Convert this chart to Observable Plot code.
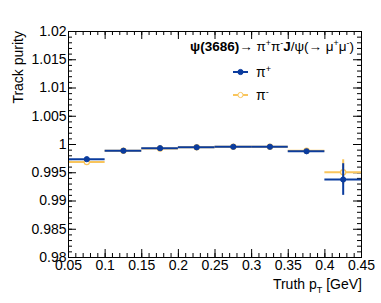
<!DOCTYPE html>
<html><head><meta charset="utf-8">
<script src="https://cdn.jsdelivr.net/npm/d3@7"></script>
<script src="https://cdn.jsdelivr.net/npm/@observablehq/plot@0.6"></script>
<style>body{margin:0;background:#fff} svg{display:block}</style>
</head><body><div id="chart"></div>
<script>
// ---- data ----
const binCenters = [0.075, 0.125, 0.175, 0.225, 0.275, 0.325, 0.375, 0.425];
const binHalfWidth = 0.025;
const piPlusPurity = [0.9974, 0.9989, 0.99935, 0.9995, 0.9996, 0.9996, 0.9988, 0.9938];
const piPlusErr    = [0.0002, 0.0001, 0.0001, 0.0001, 0.0001, 0.0001, 0.0002, 0.0028];
const piMinusPurity = [0.9969, 0.9989, 0.9993, 0.9995, 0.9996, 0.9996, 0.9989, 0.9951];
const piMinusErr    = [0.0003, 0.0001, 0.0001, 0.0001, 0.0001, 0.0001, 0.0002, 0.0022];
const xTickValues = [0.05, 0.1, 0.15, 0.2, 0.25, 0.3, 0.35, 0.4, 0.45];
const xTickLabels = ["0.05", "0.1", "0.15", "0.2", "0.25", "0.3", "0.35", "0.4", "0.45"];
const yTickValues = [0.98, 0.985, 0.99, 0.995, 1, 1.005, 1.01, 1.015, 1.02];
const yTickLabels = ["0.98", "0.985", "0.99", "0.995", "1", "1.005", "1.01", "1.015", "1.02"];
const seriesNames = ["π+", "π-"];
const blue = "#0b3c9e", orange = "#f9c55c";

const xMinor = d3.range(0, 41).map(i => +(0.05 + i * 0.01).toFixed(3));
const yMinor = d3.range(0, 41).map(i => +(0.98 + i * 0.001).toFixed(4));

const rows = (vals, errs, s) => binCenters.map((x, i) => ({x, y: vals[i], e: errs[i], s}));
const plus = rows(piPlusPurity, piPlusErr, seriesNames[0]);
const minus = rows(piMinusPurity, piMinusErr, seriesNames[1]);

const W = 381, H = 303, ml = 68, mr = 20, mt = 31, mb = 46;
const iw = W - ml - mr, ih = H - mt - mb;
const font = "'Liberation Sans', Arial, Helvetica, sans-serif";

function seriesMarks(data, color, open) {
  return [
    Plot.ruleY(data, {y: "y", x1: d => d.x - binHalfWidth, x2: d => d.x + binHalfWidth, stroke: color, strokeWidth: 2}),
    Plot.ruleX(data, {x: "x", y1: d => d.y - d.e, y2: d => d.y + d.e, stroke: color, strokeWidth: 2}),
    Plot.dot(data, {x: "x", y: "y", r: 2.6, stroke: color, strokeWidth: open ? 1.2 : 1, fill: open ? "#fff" : color})
  ];
}

const plot = Plot.plot({
  width: W, height: H,
  marginLeft: ml, marginRight: mr, marginTop: mt, marginBottom: mb,
  style: {fontFamily: font, fontSize: "14px", color: "#000", background: "#fff"},
  x: {domain: [0.05, 0.45]},
  y: {domain: [0.98, 1.02]},
  marks: [
    Plot.axisX(xTickValues, {tickSize: 0, tickPadding: 3, fontSize: 14, label: null,
      tickFormat: d => xTickLabels[xTickValues.indexOf(d)]}),
    Plot.axisY(yTickValues, {tickSize: 0, tickPadding: 2, fontSize: 14, label: null,
      tickFormat: d => yTickLabels[yTickValues.indexOf(d)]}),
    // inward ticks (ROOT style), all four sides
    Plot.tickY(yTickValues, {y: d => d, insetRight: iw - 8, stroke: "#000"}),
    Plot.tickY(yTickValues, {y: d => d, insetLeft: iw - 8, stroke: "#000"}),
    Plot.tickY(yMinor, {y: d => d, insetRight: iw - 4, stroke: "#000"}),
    Plot.tickY(yMinor, {y: d => d, insetLeft: iw - 4, stroke: "#000"}),
    Plot.tickX(xTickValues, {x: d => d, insetTop: ih - 8, stroke: "#000"}),
    Plot.tickX(xTickValues, {x: d => d, insetBottom: ih - 8, stroke: "#000"}),
    Plot.tickX(xMinor, {x: d => d, insetTop: ih - 4, stroke: "#000"}),
    Plot.tickX(xMinor, {x: d => d, insetBottom: ih - 4, stroke: "#000"}),
    ...seriesMarks(minus, orange, true),
    ...seriesMarks(plus, blue, false),
    Plot.frame({stroke: "#000"})
  ]
});
document.getElementById("chart").appendChild(plot);

// ---- text annotations with super/subscripts ----
const svg = d3.select(plot);
function rich(x, y, parts, {anchor = "start", size = 14, rotate = 0} = {}) {
  const t = svg.append("text").attr("x", x).attr("y", y)
    .attr("font-family", font).attr("font-size", size).attr("fill", "#000")
    .attr("text-anchor", anchor);
  if (rotate) t.attr("transform", `rotate(${rotate},${x},${y})`);
  let off = 0;
  for (const p of parts) {
    const target = p.sup ? -5 : p.sub ? 4 : 0;
    const s = t.append("tspan").text(p.t).attr("dy", target - off);
    off = target;
    if (p.sup || p.sub) s.attr("font-size", size * 0.65);
    if (p.bold) s.attr("font-weight", "bold");
  }
  return t;
}
rich(23, mt, [{t: "Track purity"}], {anchor: "end", rotate: -90});
rich(W - mr + 1, 289, [{t: "Truth p"}, {t: "T", sub: true}, {t: " [GeV]"}], {anchor: "end"});
rich(190, 51, [{t: "ψ(3686)", bold: true}, {t: "→ π"}, {t: "+", sup: true}, {t: "π"}, {t: "-", sup: true},
  {t: "J", bold: true}, {t: "/ψ(→ μ"}, {t: "+", sup: true}, {t: "μ"}, {t: "-", sup: true}, {t: ")"}], {size: 13.5});

// legend entries
const legend = [{y: 72, c: blue, open: false, sign: "+"}, {y: 95, c: orange, open: true, sign: "-"}];
for (const L of legend) {
  svg.append("line").attr("x1", 233).attr("x2", 248).attr("y1", L.y).attr("y2", L.y)
    .attr("stroke", L.c).attr("stroke-width", 2);
  svg.append("circle").attr("cx", 240.5).attr("cy", L.y).attr("r", 2.6)
    .attr("fill", L.open ? "#fff" : L.c).attr("stroke", L.c);
  rich(256, L.y + 5, [{t: "π"}, {t: L.sign, sup: true}], {size: 14});
}
</script>
</body></html>
